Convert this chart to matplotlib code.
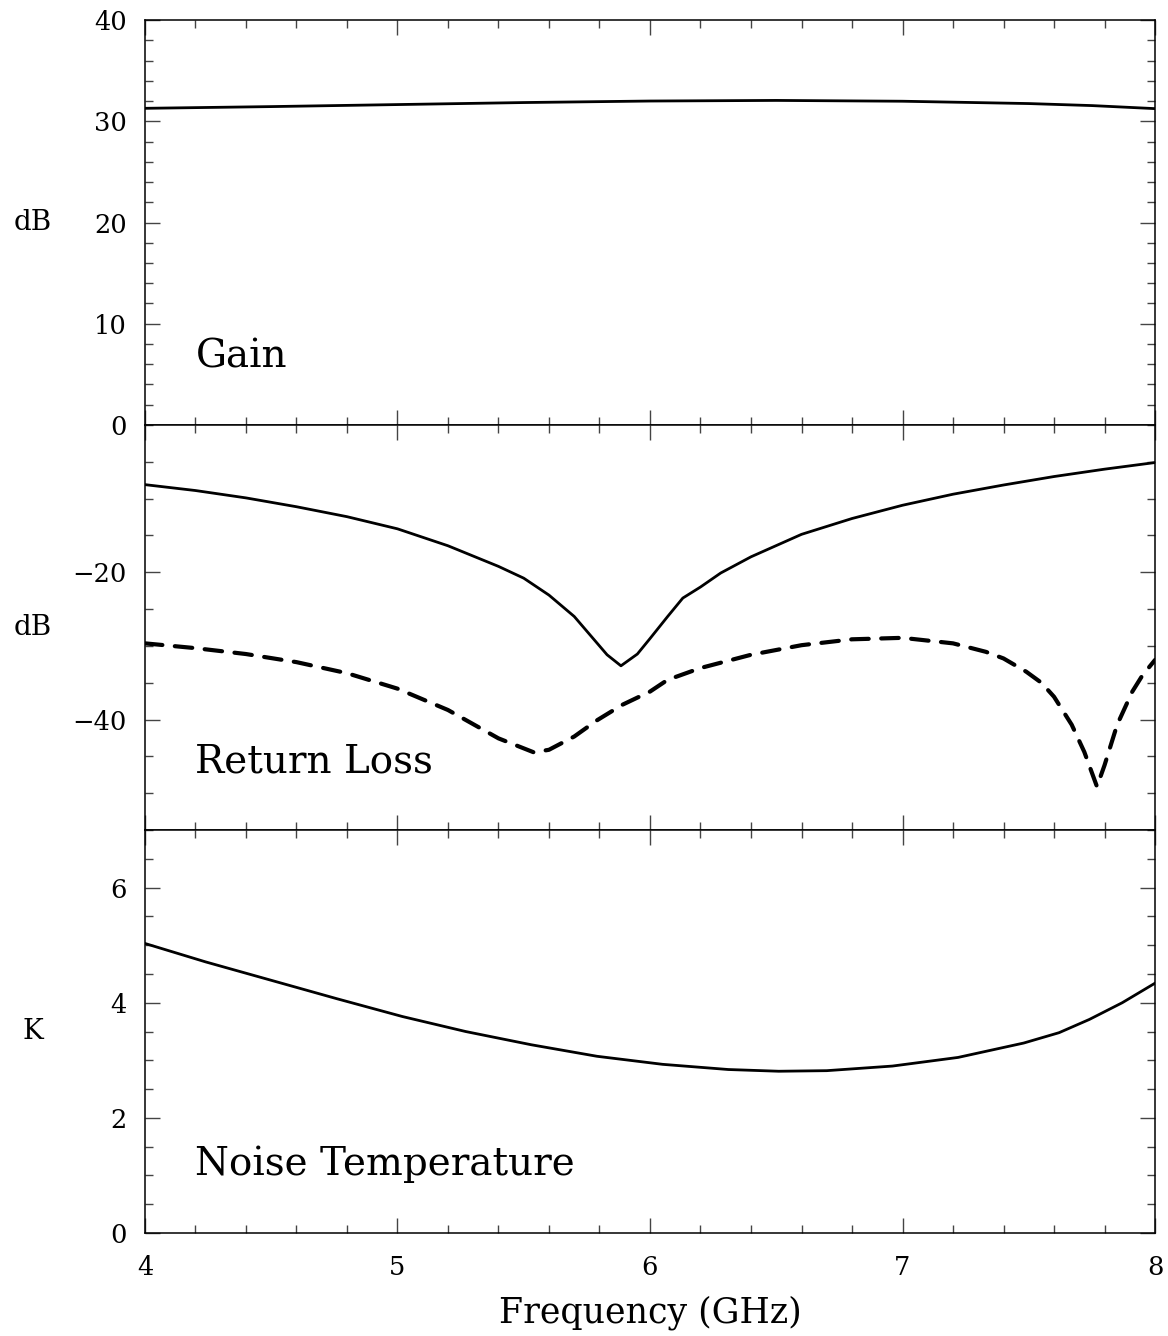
import matplotlib
matplotlib.use("Agg")
import matplotlib.pyplot as plt
from matplotlib.ticker import MultipleLocator

plt.rcParams['font.family'] = ['DejaVu Serif']

# gain (dB)
gain_freq = [4.0, 4.5, 5.0, 5.5, 6.0, 6.5, 7.0, 7.5, 7.75, 8.0]
gain_db = [31.28, 31.45, 31.65, 31.85, 32.0, 32.06, 31.98, 31.75, 31.55, 31.25]

# return loss, solid curve (dB)
rl1_freq = [4.0, 4.2, 4.4, 4.6, 4.8, 5.0, 5.2, 5.4, 5.5, 5.6, 5.7, 5.83, 5.885,
            5.95, 6.0, 6.07, 6.13, 6.2, 6.28, 6.4, 6.6, 6.8, 7.0, 7.2, 7.4,
            7.6, 7.8, 8.0]
rl1_db = [-8.1, -8.9, -9.9, -11.1, -12.45, -14.1, -16.4, -19.2, -20.8, -23.1,
          -26.0, -31.2, -32.7, -31.1, -29.0, -26.0, -23.5, -22.0, -20.1, -17.9,
          -14.85, -12.7, -10.9, -9.4, -8.15, -7.0, -6.0, -5.1]

# return loss, dashed curve (dB)
rl2_freq = [4.0, 4.2, 4.4, 4.6, 4.8, 5.0, 5.2, 5.4, 5.54, 5.6, 5.7, 5.79, 5.89,
            6.0, 6.07, 6.2, 6.4, 6.6, 6.8, 7.0, 7.2, 7.33, 7.4, 7.49, 7.55,
            7.6, 7.67, 7.72, 7.77, 7.8, 7.85, 7.91, 7.95, 8.0]
rl2_db = [-29.65, -30.3, -31.1, -32.2, -33.7, -35.8, -38.7, -42.55, -44.45,
          -44.1, -42.3, -40.1, -38.0, -36.2, -34.6, -33.0, -31.2, -29.9, -29.1,
          -28.9, -29.65, -30.8, -31.7, -33.5, -35.0, -36.9, -40.7, -44.4,
          -49.1, -46.2, -40.7, -36.2, -34.0, -31.9]

# noise temperature (K)
noise_freq = [4.0, 4.24, 4.5, 4.76, 5.02, 5.27, 5.53, 5.79, 6.05, 6.31, 6.51,
              6.7, 6.96, 7.22, 7.48, 7.62, 7.74, 7.87, 8.0]
noise_k = [5.03, 4.71, 4.39, 4.07, 3.76, 3.5, 3.27, 3.07, 2.93, 2.84, 2.81,
           2.82, 2.9, 3.05, 3.3, 3.48, 3.71, 4.0, 4.34]

fig = plt.figure(figsize=(11.68, 13.36), dpi=100)
left, width = 0.1241, 0.8648
ax1 = fig.add_axes([left, 0.6819, width, 0.3031])
ax2 = fig.add_axes([left, 0.3787, width, 0.3032])
ax3 = fig.add_axes([left, 0.0771, width, 0.3016])

ax1.plot(gain_freq, gain_db, color='black', lw=2.0)
ax2.plot(rl1_freq, rl1_db, color='black', lw=2.0)
ax2.plot(rl2_freq, rl2_db, color='black', lw=3.0, linestyle=(0, (4.2, 3.0)),
         dash_capstyle='round')
ax3.plot(noise_freq, noise_k, color='black', lw=2.0)

ax1.set_ylim(0, 40)
ax1.set_yticks([0, 10, 20, 30, 40])
ax1.yaxis.set_minor_locator(MultipleLocator(2))
ax2.set_ylim(-55, 0)
ax2.set_yticks([-40, -20])
ax2.yaxis.set_minor_locator(MultipleLocator(5))
ax3.set_ylim(0, 7)
ax3.set_yticks([0, 2, 4, 6])
ax3.yaxis.set_minor_locator(MultipleLocator(0.5))

for ax in (ax1, ax2, ax3):
    ax.set_xlim(4, 8)
    ax.set_xticks([4, 5, 6, 7, 8])
    ax.xaxis.set_minor_locator(MultipleLocator(0.2))
    ax.tick_params(which='both', direction='in', top=True, right=True,
                   labelsize=18.5, width=1.0, color='#444444')
    ax.tick_params(which='major', length=11, pad=13)
    ax.tick_params(which='minor', length=5.5)
    for s in ax.spines.values():
        s.set_linewidth(1.1)
    ax.yaxis.set_label_coords(-0.111, 0.5)

ax1.tick_params(axis='x', labelbottom=False)
ax2.tick_params(axis='x', labelbottom=False)
ax3.tick_params(axis='x', pad=16)

ax1.set_ylabel('dB', fontsize=20, rotation=0, ha='center', va='center')
ax2.set_ylabel('dB', fontsize=20, rotation=0, ha='center', va='center')
ax3.set_ylabel('K', fontsize=20, rotation=0, ha='center', va='center')

ax1.text(0.05, 0.143, 'Gain', transform=ax1.transAxes, fontsize=28)
ax2.text(0.05, 0.143, 'Return Loss', transform=ax2.transAxes, fontsize=28)
ax3.text(0.05, 0.143, 'Noise Temperature', transform=ax3.transAxes, fontsize=28)

ax3.set_xlabel('Frequency (GHz)', fontsize=25)
ax3.xaxis.set_label_coords(0.5, -0.155)

fig.savefig('out.png', dpi=100)
